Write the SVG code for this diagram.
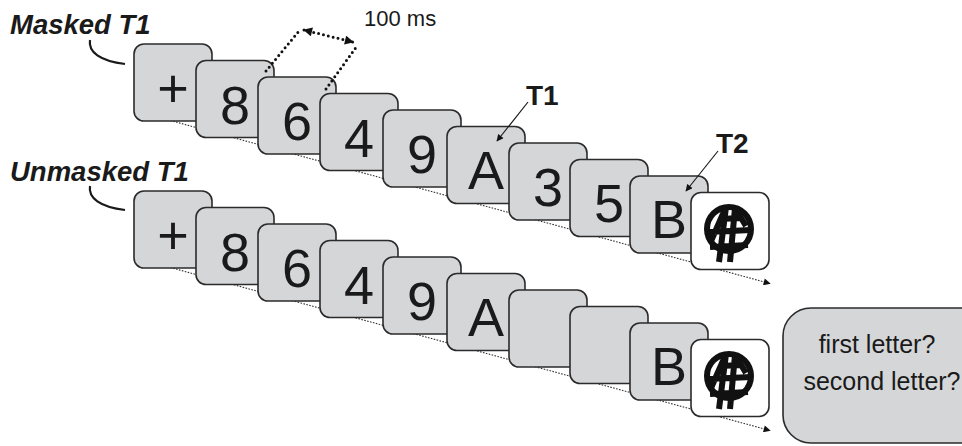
<svg xmlns="http://www.w3.org/2000/svg" width="962" height="446" viewBox="0 0 962 446">
<style>
.card{fill:#d5d6d8;stroke:#2b2b2b;stroke-width:1.6}
.mask{fill:#ffffff;stroke:#2b2b2b;stroke-width:1.6}
.dig{font-family:"Liberation Sans",Arial,sans-serif;font-size:54px;fill:#1a1a1a;text-anchor:middle}
.lab{font-family:"Liberation Sans",Arial,sans-serif;font-size:27.5px;font-weight:bold;font-style:italic;fill:#1a1a1a}
.tl{font-family:"Liberation Sans",Arial,sans-serif;font-size:28px;font-weight:bold;fill:#1a1a1a}
.ms{font-family:"Liberation Sans",Arial,sans-serif;font-size:22px;fill:#1a1a1a}
.q{font-family:"Liberation Sans",Arial,sans-serif;font-size:25px;fill:#1a1a1a;text-anchor:middle}
.time{fill:none;stroke:#333;stroke-width:1.1;stroke-dasharray:1.6 1.4}
.hook{fill:none;stroke:#1a1a1a;stroke-width:2.2}
.ptr{fill:none;stroke:#1a1a1a;stroke-width:1.2}
.dots{fill:none;stroke:#111;stroke-width:3;stroke-dasharray:0 5;stroke-linecap:round}
.mk{fill:none;stroke:#111;stroke-width:6}
.mkb{fill:none;stroke:#111;stroke-width:6}
</style>
<defs>
<marker id="ah" viewBox="0 0 10 10" refX="9" refY="5" markerWidth="9" markerHeight="7" markerUnits="userSpaceOnUse" orient="auto"><path d="M0,0 L10,5 L0,10 z" fill="#111"/></marker>
<marker id="ah2" viewBox="0 0 10 10" refX="9" refY="5" markerWidth="11" markerHeight="9" markerUnits="userSpaceOnUse" orient="auto-start-reverse"><path d="M0,0 L10,5 L0,10 z" fill="#111"/></marker>
<g id="maskglyph">
<circle cx="0" cy="0" r="22" class="mk"/>
<path class="mkb" d="M-3,-22 L-10,33 M6,-21 L1,33 M-21,3 L22,1 M-19,18 L19,16 M-9,-10 L12,-11 M-3,-22 L-18,12 M6,-21 L17,-3"/>
</g>
</defs>

<g id="timelines">
<path class="time" d="M150,115 L770,283.5" marker-end="url(#ah)"/>
<path class="time" d="M150,262 L770,430.5" marker-end="url(#ah)"/>
</g>

<g id="label-masked">
<text class="lab" x="10" y="34">Masked T1</text>
<path class="hook" d="M90,40 C88,52 100,61 125,64"/>
</g>
<g id="label-unmasked">
<text class="lab" x="10" y="181">Unmasked T1</text>
<path class="hook" d="M90,186 C88,198 100,207 125,210"/>
</g>

<g id="top-fix"><rect class="card" x="134" y="44" width="78" height="77" rx="10"/><text class="dig" x="173" y="107">+</text></g>
<g id="top-8"><rect class="card" x="196" y="60.5" width="78" height="77" rx="10"/><text class="dig" x="235" y="124">8</text></g>
<g id="top-6"><rect class="card" x="258" y="77" width="78" height="77" rx="10"/><text class="dig" x="297" y="140">6</text></g>
<g id="top-4"><rect class="card" x="320" y="93.5" width="78" height="77" rx="10"/><text class="dig" x="359" y="157">4</text></g>
<g id="top-9"><rect class="card" x="383" y="110" width="78" height="77" rx="10"/><text class="dig" x="422" y="173">9</text></g>
<g id="top-A"><rect class="card" x="447" y="126.5" width="78" height="77" rx="10"/><text class="dig" x="486" y="189">A</text></g>
<g id="top-3"><rect class="card" x="509" y="143" width="78" height="77" rx="10"/><text class="dig" x="548" y="206">3</text></g>
<g id="top-5"><rect class="card" x="570" y="159.5" width="78" height="77" rx="10"/><text class="dig" x="609" y="222">5</text></g>
<g id="top-B"><rect class="card" x="630" y="176" width="78" height="77" rx="10"/><text class="dig" x="669" y="238">B</text></g>
<g id="top-mask"><rect class="mask" x="691" y="192.5" width="78" height="77" rx="10"/><use href="#maskglyph" x="729" y="229"/></g>

<g id="bot-fix"><rect class="card" x="134" y="191" width="78" height="77" rx="10"/><text class="dig" x="173" y="254">+</text></g>
<g id="bot-8"><rect class="card" x="196" y="207.5" width="78" height="77" rx="10"/><text class="dig" x="235" y="271">8</text></g>
<g id="bot-6"><rect class="card" x="258" y="224" width="78" height="77" rx="10"/><text class="dig" x="297" y="287">6</text></g>
<g id="bot-4"><rect class="card" x="320" y="240.5" width="78" height="77" rx="10"/><text class="dig" x="359" y="304">4</text></g>
<g id="bot-9"><rect class="card" x="383" y="257" width="78" height="77" rx="10"/><text class="dig" x="422" y="320">9</text></g>
<g id="bot-A"><rect class="card" x="447" y="273.5" width="78" height="77" rx="10"/><text class="dig" x="486" y="336">A</text></g>
<g id="bot-blank1"><rect class="card" x="509" y="290" width="78" height="77" rx="10"/></g>
<g id="bot-blank2"><rect class="card" x="570" y="306.5" width="78" height="77" rx="10"/></g>
<g id="bot-B"><rect class="card" x="630" y="323" width="78" height="77" rx="10"/><text class="dig" x="669" y="385">B</text></g>
<g id="bot-mask"><rect class="mask" x="691" y="339.5" width="78" height="77" rx="10"/><use href="#maskglyph" x="729" y="376"/></g>

<g id="response"><rect class="card" x="783" y="308" width="220" height="135" rx="28"/>
<text class="q" x="877" y="353">first letter?</text>
<text class="q" x="882" y="390">second letter?</text></g>

<g id="connectors">
<path class="ptr" d="M528,102 L497,141" marker-end="url(#ah)"/>
<text class="tl" x="526" y="105">T1</text>
<path class="ptr" d="M718,151 L686,191" marker-end="url(#ah)"/>
<text class="tl" x="716" y="153">T2</text>
<path class="dots" d="M266,71 L299,31"/>
<path class="dots" d="M326,89 L357,46"/>
<path class="dots" d="M304,30 L353,42" marker-start="url(#ah2)" marker-end="url(#ah2)"/>
<text class="ms" x="364" y="26">100 ms</text>
</g>
</svg>
